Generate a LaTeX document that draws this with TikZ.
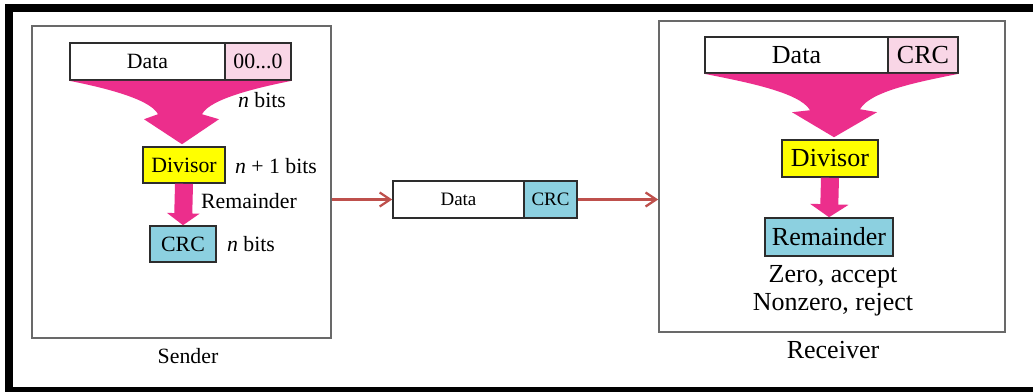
\documentclass[tikz,border=0pt]{standalone}
\usepackage{fontspec}
\setmainfont{Liberation Serif}
\usetikzlibrary{arrows.meta,calc}
\definecolor{funnelpink}{RGB}{236,46,140}
\definecolor{tailpink}{RGB}{249,214,230}
\definecolor{crcblue}{RGB}{140,208,224}
\definecolor{divyellow}{RGB}{255,255,0}
\definecolor{linkred}{RGB}{190,80,76}
\definecolor{framegray}{RGB}{105,105,105}
\definecolor{boxline}{RGB}{45,45,45}
\newcommand{\pxl}{0.025cm}
\begin{document}
\begin{tikzpicture}[x=0.025cm,y=-0.025cm]
        \tikzstyle{block} = [rectangle, draw=boxline, line width=1.1pt, inner sep=0pt, text=black]
        \tikzstyle{frame} = [rectangle, draw=framegray, line width=1.2pt, inner sep=0pt]
        \tikzstyle{sfont} = [font=\fontsize{15.5}{18}\selectfont]
        \tikzstyle{rfont} = [font=\fontsize{18.5}{20}\selectfont]
        \tikzstyle{mfont} = [font=\fontsize{13.5}{16}\selectfont]
        \tikzstyle{link} = [-{Straight Barb[length=7.5pt,width=10pt]}, draw=linkred, line width=1.6pt]
        \tikzstyle{fat} = [draw=funnelpink, line width=12.8pt]
        \fill[white] (0,0) rectangle (1033,392);
        \useasboundingbox (0,0) rectangle (1033,392);
        % outer black border
        \fill[black] (5,4) rectangle (1033,12);
        \fill[black] (5,4) rectangle (13,392);
        \fill[black] (5,387) rectangle (1033,392);
        % sender
        \node[frame,minimum width=299*\pxl,minimum height=312*\pxl] (sender) at (181.5,182) {};
        \node[sfont] (senderlbl) at (188,356) {Sender};
        \node[block,sfont,fill=white,minimum width=155*\pxl,minimum height=37*\pxl] (sdata) at (147.5,61.5) {Data};
        \node[block,sfont,fill=tailpink,minimum width=66*\pxl,minimum height=37*\pxl] (szero) at (258,61.5) {00...0};
        \node[sfont] (szerobits) at (262,100) {\textit{n} bits};
        \node[block,sfont,fill=divyellow,minimum width=82*\pxl,minimum height=36*\pxl] (sdiv) at (184,165) {Divisor};
        \node[sfont] (sdivbits) at (276,166) {\textit{n} + 1 bits};
        \node[sfont] (sremlbl) at (249,201) {Remainder};
        \node[block,sfont,fill=crcblue,minimum width=66*\pxl,minimum height=36*\pxl] (scrc) at (183,244) {CRC};
        \node[sfont] (scrcbits) at (251,244) {\textit{n} bits};
        \fill[funnelpink] (sdata.south west) .. controls +(30,6) and +(-8,-16) .. ($(sdiv.north)+(-26,-32)$)
            -- ($(sdiv.north)+(-40,-27)$) -- ($(sdiv.north)+(-2,-2)$) -- ($(sdiv.north)+(35,-27)$) -- ($(sdiv.north)+(18,-32)$)
            .. controls +(8,-16) and +(-30,6) .. (szero.south east) -- cycle;
        \draw[fat,-{Triangle[width=22.8pt,length=8.5pt]}] (sdiv.south) -- (scrc.north);
        % in transit
        \node[block,mfont,fill=white,minimum width=131*\pxl,minimum height=37*\pxl] (mdata) at (458.5,199.5) {Data};
        \node[block,mfont,fill=crcblue,minimum width=53*\pxl,minimum height=37*\pxl] (mcrc) at (550.5,199.5) {CRC};
        % receiver
        \node[frame,minimum width=346*\pxl,minimum height=311*\pxl] (receiver) at (832,176.5) {};
        \node[rfont] (receiverlbl) at (833,350) {Receiver};
        \node[block,rfont,fill=white,minimum width=183*\pxl,minimum height=36*\pxl] (rdata) at (796.5,55) {Data};
        \node[block,rfont,fill=tailpink,minimum width=70*\pxl,minimum height=36*\pxl] (rcrc) at (923,55) {CRC};
        \node[block,rfont,fill=divyellow,minimum width=96*\pxl,minimum height=37*\pxl] (rdiv) at (830,158.5) {Divisor};
        \node[block,rfont,fill=crcblue,minimum width=128*\pxl,minimum height=38*\pxl] (rrem) at (829,237) {Remainder};
        \node[rfont,align=center] (verdict) at (833,291) {Zero, accept\\Nonzero, reject};
        \fill[funnelpink] (rdata.south west) .. controls +(40,8) and +(-10,-18) .. ($(rdiv.north)+(-20,-29)$)
            -- ($(rdiv.north)+(-38,-27)$) -- ($(rdiv.north)+(4,-2)$) -- ($(rdiv.north)+(47,-27)$) -- ($(rdiv.north)+(30,-30)$)
            .. controls +(10,-18) and +(-40,8) .. (rcrc.south east) -- cycle;
        \draw[fat,-{Triangle[width=27pt,length=9.2pt]}] (rdiv.south) -- (rrem.north);
        % links
        \draw[link] (sender.east |- mdata.west) -- (mdata.west);
        \draw[link] (mcrc.east) -- (receiver.west |- mcrc.east);
    \end{tikzpicture}
\end{document}
